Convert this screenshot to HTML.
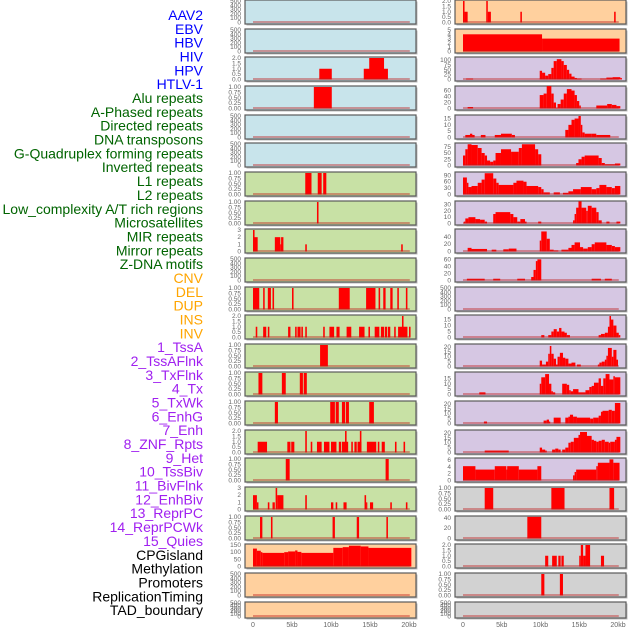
<!DOCTYPE html>
<html><head><meta charset="utf-8"><style>
html,body{margin:0;padding:0;background:#fff;}
svg{display:block;font-family:"Liberation Sans",sans-serif;}
</style></head><body>
<svg id="chart" width="630" height="630" viewBox="0 0 630 630"></svg>
<script>
const trackLabels=["AAV2","EBV","HBV","HIV","HPV","HTLV-1","Alu repeats","A-Phased repeats","Directed repeats","DNA transposons","G-Quadruplex forming repeats","Inverted repeats","L1 repeats","L2 repeats","Low_complexity A/T rich regions","Microsatellites","MIR repeats","Mirror repeats","Z-DNA motifs","CNV","DEL","DUP","INS","INV","1_TssA","2_TssAFlnk","3_TxFlnk","4_Tx","5_TxWk","6_EnhG","7_Enh","8_ZNF_Rpts","9_Het","10_TssBiv","11_BivFlnk","12_EnhBiv","13_ReprPC","14_ReprPCWk","15_Quies","CPGisland","Methylation","Promoters","ReplicationTiming","TAD_boundary"];
const labelGroups=["v","v","v","v","v","v","r","r","r","r","r","r","r","r","r","r","r","r","r","c","c","c","c","c","h","h","h","h","h","h","h","h","h","h","h","h","h","h","h","k","k","k","k","k"];
const xTickKb=[0,5,10,15,20];
const xTickLabels=["0","5kb","10kb","15kb","20kb"];
// panel axis domains (ymax) and tick labels
const leftYMax=[500,500,2,1,500,500,1,1,3,500,1,2,1,1,1,2,1,3,1,150,500,500];
const rightYMax=[2,5,111,72,17,86,101,34,59,61,500,18,22,20,22,22,6.3,1,41.7,2,1,500];
const leftTicks=["E","E","2","1","E","E","1","1","3","E","1","2","1","1","1","2","1","3","1","150","E","E"];
const rightTicks=["2","5","100","60","15","75","90","30","40","60","E","15","20","15","20","20","6","1","40","2","1","E"];
const leftBg=["b","b","b","b","b","b","g","g","g","g","g","g","g","g","g","g","g","g","g","o","o","o"];
const rightBg=["o","o","p","p","p","p","p","p","p","p","p","p","p","p","p","p","p","y","y","y","y","y"];
// series: [startKb,endKb,value]
const L=[];const R=[];
L[2]=[[8.5,10.1,1],[14.2,17.3,1],[14.9,16.8,2]];
L[3]=[[7.8,10.1,1]];
L[6]=[[6.7,7.5,1],[8.3,8.8,1],[9.0,9.4,1]];
L[7]=[[8.2,8.4,1]];
L[8]=[[0,0.6,2],[0,0.2,3],[2.8,3.5,2],[3.5,3.6,1],[3.6,3.9,2],[6.7,6.9,1],[19.0,19.2,1]];
L[10]=[[0,0.8,1],[1.3,1.5,1],[1.9,2.3,1],[2.5,2.7,1],[5.0,5.2,1],[11.0,12.4,1],[14.5,15.7,1],[16.1,16.3,1],[16.7,17.0,1],[17.6,17.9,1],[18.5,18.7,1],[19.6,19.8,1]];
L[11]=[[0.35,0.55,1],[1.3,1.7,1],[1.9,2.1,1],[4.5,4.8,1],[5.4,5.6,1],[5.7,6.1,1],[6.2,6.4,1],[6.7,6.9,1],[9.0,9.2,1],[9.8,10.4,1],[10.7,11.1,1],[12.0,12.6,1],[13.6,14.3,1],[14.8,15.0,1],[15.6,16.2,1],[16.4,16.8,1],[16.9,17.2,1],[17.3,17.6,1],[18.1,18.3,1],[18.6,19.8,1],[19.1,19.3,2],[20.0,20.2,1]];
L[12]=[[8.6,9.6,1]];
L[13]=[[0.7,1.2,1],[3.7,4.2,1],[6.0,6.4,1],[6.5,6.9,1]];
L[14]=[[2.8,3.2,1],[9.9,10.5,1],[10.6,11.0,1],[11.4,11.8,1],[11.9,12.3,1],[14.9,15.5,1]];
L[15]=[[0.6,1.8,1],[4.4,4.8,1],[4.9,5.3,1],[6.7,6.9,2],[7.4,7.6,1],[8.2,8.8,1],[9.1,9.8,1],[10.0,10.7,1],[11.0,11.3,1],[11.4,12.2,1],[11.8,12.0,2],[12.6,12.8,1],[13.0,13.3,1],[13.4,13.9,1],[13.7,13.9,2],[14.6,15.8,1],[16.0,16.2,1],[16.5,16.9,1],[18.2,18.4,1],[19.3,19.5,1]];
L[16]=[[4.2,4.7,1],[17.0,17.4,1]];
L[17]=[[0,0.5,2],[0.5,0.7,1],[1.9,2.1,1],[2.5,2.8,1],[2.9,3.1,3],[3.1,3.9,2],[6.7,6.9,2],[10.0,10.3,1],[10.6,10.8,1],[11.6,12.0,1],[14.3,14.5,2],[14.5,14.6,1],[15.0,15.4,1],[17.6,17.8,1],[19.6,19.8,1]];
L[18]=[[0.9,1.2,1],[2.3,2.5,1],[10.2,10.5,1],[13.3,13.6,1],[17.1,17.3,1]];
L[19]=[[0,0.5,125],[0.5,1.0,110],[1.0,1.2,100],[1.2,4.0,95],[4.0,4.5,100],[4.5,5.4,105],[5.4,5.7,112],[5.7,6.2,102],[6.2,10.3,95],[10.3,11.5,130],[11.5,12.3,135],[12.3,13.8,145],[13.8,14.8,140],[14.8,20.3,130]];
R[0]=[[0,0.2,2],[0.2,0.6,1],[3.0,3.2,2],[3.2,3.6,1],[7.4,7.6,1],[19.5,19.7,1]];
R[1]=[[0,10.2,4],[10.2,20.2,3]];
R[2]=[[0.4,1.3,5],[9.9,10.2,45],[10.2,10.6,35],[10.6,11.0,20],[11.0,11.4,28],[11.4,11.7,60],[11.7,12.1,95],[12.1,12.7,105],[12.7,13.0,95],[13.0,13.4,75],[13.4,13.7,50],[13.7,14.0,30],[14.0,14.4,15],[14.4,14.7,8],[14.7,15.3,5],[17.7,18.5,5],[18.5,19.3,10],[19.3,20.3,12],[20.3,20.5,8]];
R[3]=[[0.6,1.3,5],[9.9,10.4,45],[10.4,10.8,50],[10.8,11.4,75],[11.4,11.7,50],[11.7,12.0,20],[12.0,12.2,2],[12.2,12.6,15],[12.6,13.0,30],[13.0,13.4,50],[13.4,14.0,65],[14.0,14.4,60],[14.4,14.7,45],[14.7,15.0,25],[15.0,15.2,10],[17.2,18.6,10],[18.6,19.2,15],[19.2,19.8,12],[19.8,20.3,8]];
R[4]=[[0.3,1.5,2],[0.9,1.2,3],[2.3,2.9,2],[4.1,4.9,2],[4.9,6.3,3],[6.3,6.7,2],[13.2,13.6,6],[13.6,14.0,10],[14.0,14.4,14],[14.4,14.9,15],[14.9,15.2,17],[15.2,15.4,10],[15.4,15.7,4],[15.7,16.6,3],[16.6,17.2,3],[17.2,19.0,2]];
R[5]=[[0,0.3,40],[0.3,0.6,65],[0.6,1.1,85],[1.1,1.9,82],[1.9,2.4,70],[2.4,2.8,50],[2.8,3.1,40],[3.1,3.5,20],[3.5,3.9,15],[3.9,4.2,20],[4.2,4.9,50],[4.9,6.2,65],[6.2,7.2,55],[7.2,7.6,70],[7.6,9.3,85],[9.3,9.7,65],[9.7,10.1,45],[14.6,14.9,10],[14.9,15.3,25],[15.3,15.7,35],[15.7,17.5,40],[17.5,17.9,30],[17.9,18.3,10],[18.3,19.6,5],[19.6,20.3,8]];
R[6]=[[0,0.5,80],[0.5,0.7,55],[0.7,1.1,35],[1.1,1.9,40],[1.9,2.4,55],[2.4,2.8,70],[2.8,3.9,100],[3.9,4.3,75],[4.3,4.6,55],[4.6,6.5,45],[6.5,6.9,55],[6.9,7.8,65],[7.8,8.2,60],[8.2,9.7,40],[9.7,10.1,35],[10.1,10.4,25],[10.4,11.2,10],[11.7,12.5,10],[12.9,13.6,8],[13.6,14.2,15],[14.2,15.2,25],[15.2,16.6,35],[16.6,17.2,25],[17.2,17.6,30],[17.6,18.5,45],[18.5,19.2,35],[19.2,19.6,30],[19.6,20.3,40]];
R[7]=[[0.1,0.3,3],[0.3,0.7,8],[0.7,1.6,10],[1.6,2.2,7],[2.2,2.8,6],[2.8,3.1,3],[3.9,4.2,15],[4.2,6.1,18],[6.1,6.5,15],[6.5,7.0,10],[7.0,7.4,3],[7.4,8.0,7],[8.0,8.2,3],[9.7,10.1,3],[14.2,14.4,5],[14.4,14.6,15],[14.6,14.9,25],[14.9,15.3,35],[15.3,15.9,25],[15.9,16.1,20],[16.1,16.6,28],[16.6,17.2,25],[17.2,17.5,18],[17.5,17.9,5],[18.5,18.9,3],[19.8,20.3,3]];
R[8]=[[0.6,1.1,10],[1.1,3.1,7],[3.7,4.3,5],[5.2,5.9,6],[5.9,6.9,8],[9.9,10.1,30],[10.1,10.8,55],[10.8,11.2,35],[11.2,11.7,5],[11.7,12.3,3],[12.7,13.6,5],[13.6,14.0,10],[14.0,14.4,18],[14.4,15.1,25],[15.1,15.5,12],[15.5,16.1,8],[16.1,16.6,12],[16.6,17.0,20],[17.0,18.5,25],[18.5,19.2,18],[19.2,19.6,15],[19.6,20.3,12]];
R[9]=[[0.5,2.8,5],[3.9,4.8,5],[7.0,8.0,5],[8.8,9.1,10],[9.1,9.4,30],[9.4,9.6,55],[9.6,10.1,60],[16.6,17.8,5],[18.3,19.2,5]];
R[11]=[[10.1,10.5,2],[11.0,11.4,2],[11.4,11.7,5],[11.7,12.1,7],[12.1,12.4,5],[12.4,12.7,8],[12.7,13.1,5],[13.1,13.4,4],[13.4,13.8,2],[17.5,17.8,2],[17.8,18.3,3],[18.3,18.7,4],[18.7,18.9,9],[18.9,19.1,18],[19.1,19.4,15],[19.4,19.8,10],[19.8,20.1,4],[20.1,20.3,2]];
R[12]=[[9.9,10.2,6],[10.2,10.7,2],[10.7,11.0,5],[11.0,11.2,13],[11.2,11.4,21],[11.4,11.7,13],[11.7,12.0,8],[12.0,12.2,2],[12.2,12.5,10],[12.5,12.9,14],[12.9,13.2,9],[13.2,13.6,8],[13.6,14.0,3],[14.0,14.5,4],[14.7,15.2,2],[17.4,17.6,2],[17.6,17.9,4],[17.9,18.3,5],[18.3,18.5,7],[18.5,18.7,11],[18.7,19.2,19],[19.2,19.4,10],[19.4,19.8,17],[19.8,20.0,7]];
R[13]=[[2.1,2.9,2],[9.9,10.1,10],[10.1,10.6,16],[10.6,11.1,19],[11.1,11.4,10],[11.4,11.6,3],[11.6,11.9,2],[12.8,13.4,10],[13.4,13.7,9],[13.7,13.9,4],[13.9,14.2,3],[14.2,14.9,5],[14.9,15.8,2],[15.8,16.3,4],[16.3,16.6,7],[16.6,16.9,8],[16.9,17.5,11],[17.5,17.8,15],[17.8,18.1,8],[18.1,18.4,15],[18.4,18.9,19],[18.9,19.4,14],[19.4,19.6,17],[19.6,20.3,16]];
R[14]=[[2.7,3.1,2],[10.4,10.8,3],[10.8,11.1,4],[11.1,11.2,2],[11.7,12.6,6],[13.2,13.6,6],[13.6,13.8,7],[13.8,14.2,9],[14.2,14.7,7],[14.7,16.4,6],[16.4,16.8,5],[16.8,17.5,6],[17.5,17.8,8],[17.8,18.0,12],[18.0,18.8,13],[18.8,19.2,14],[19.2,19.6,13],[19.6,20.3,21]];
R[15]=[[2.8,5.9,2],[9.9,10.2,5],[10.2,10.6,3],[10.6,10.8,2],[11.5,11.9,3],[11.9,12.3,4],[12.3,12.6,3],[12.8,13.2,3],[13.2,13.6,5],[13.6,13.9,10],[13.9,14.3,11],[14.3,14.9,15],[14.9,15.1,18],[15.1,16.0,21],[16.0,16.6,17],[16.6,16.9,13],[16.9,17.2,12],[17.2,17.5,11],[17.5,17.9,12],[17.9,18.3,13],[18.3,18.8,11],[18.8,19.0,10],[19.0,19.6,11],[19.6,19.8,13],[19.8,20.3,16]];
R[16]=[[0,1.6,4.2],[1.6,4.1,3.2],[4.1,5.6,4.2],[5.6,5.7,3.2],[5.7,7.2,4.2],[7.2,9.6,3.2],[9.6,10.1,4.2],[14.2,14.4,1.5],[14.4,14.6,2.5],[14.6,17.2,3.2],[17.2,17.4,4.2],[17.4,18.9,5.2],[18.9,19.4,6.2],[19.4,20.2,5.2]];
R[17]=[[2.8,3.9,1],[11.4,13.1,1],[18.9,19.5,1]];
R[18]=[[8.3,10.1,42]];
R[19]=[[10.6,11.0,1],[11.5,12.1,1],[12.3,12.6,1],[12.7,13.0,1],[15.0,15.2,1],[15.2,15.5,2],[15.5,15.8,1],[15.8,16.4,2],[17.8,18.2,1]];
R[20]=[[10.1,10.5,1],[12.5,12.9,1]];

const NS="http://www.w3.org/2000/svg";
const svg=document.getElementById('chart');
const bgColors={b:"#c8e4eb",g:"#c8e1a5",o:"#ffd09e",p:"#d6c7e3",y:"#d2d2d2"};
const grpColors={v:"#0000ff",r:"#006400",c:"#ffa500",h:"#a020f0",k:"#000000"};
const tickSets={"E":[[0,"0"],[100,"100"],[200,"200"],[300,"300"],[400,"400"],[500,"500"]],
"1":[[0,"0.00"],[0.25,"0.25"],[0.5,"0.50"],[0.75,"0.75"],[1,"1.00"]],
"2":[[0,"0.0"],[0.5,"0.5"],[1,"1.0"],[1.5,"1.5"],[2,"2.0"]],
"3":[[0,"0"],[1,"1"],[2,"2"],[3,"3"]],
"5":[[0,"0"],[1,"1"],[2,"2"],[3,"3"],[4,"4"],[5,"5"]],
"6":[[0,"0"],[2,"2"],[4,"4"],[6,"6"]],
"15":[[0,"0"],[5,"5"],[10,"10"],[15,"15"]],
"20":[[0,"0"],[5,"5"],[10,"10"],[15,"15"],[20,"20"]],
"30":[[0,"0"],[10,"10"],[20,"20"],[30,"30"]],
"40":[[0,"0"],[20,"20"],[40,"40"]],
"60":[[0,"0"],[20,"20"],[40,"40"],[60,"60"]],
"75":[[0,"0"],[25,"25"],[50,"50"],[75,"75"]],
"90":[[0,"0"],[30,"30"],[60,"60"],[90,"90"]],
"100":[[0,"0"],[25,"25"],[50,"50"],[75,"75"],[100,"100"]],
"150":[[0,"0"],[50,"50"],[100,"100"],[150,"150"]]};
function mk(tag,attrs){const e=document.createElementNS(NS,tag);for(const k in attrs)e.setAttribute(k,attrs[k]);svg.appendChild(e);return e;}

// labels
for(let i=0;i<trackLabels.length;i++){
  const t=mk('text',{x:203,y:15+i*13.84+5,'text-anchor':'end','font-size':'14',fill:grpColors[labelGroups[i]]});
  
  
  t.textContent=trackLabels[i];
}
function xScaleL(kb){return 253+kb*7.8;}
function xScaleR(kb){return 463+kb*7.75;}

function drawPanel(row,side){
  const px=side===0?245:455, pw=171;
  const top=Math.round(row*28.65), h=row===21?16:24;
  const ymax=side===0?leftYMax[row]:rightYMax[row];
  const tk=side===0?leftTicks[row]:rightTicks[row];
  const bg=side===0?leftBg[row]:rightBg[row];
  const data=side===0?L[row]:R[row];
  const xs=side===0?xScaleL:xScaleR;
  const y0=top+h-1.5, span=h-2.5;
  const ys=v=>y0-v/ymax*span;
  mk('rect',{x:px+1.5,y:top+1.5,width:pw,height:h,fill:"#bbbbbb"});
  const r=mk('rect',{x:px,y:top,width:pw,height:h,fill:bgColors[bg],stroke:"#5a5a5a",'stroke-width':1.2});
  
  
  for(const [v,lab] of tickSets[tk]){
    const t=mk('text',{x:px-4,y:ys(v)+2,'text-anchor':'end','font-size':'6.5',fill:"#666"});
    
    
    t.textContent=lab;
  }
  if(data){
    for(const [a,b,v] of data){
      const rr=mk('rect',{x:xs(a),y:ys(v),width:Math.max(xs(b)-xs(a),1.2),height:y0-ys(v),fill:"#ff0000"});
      
      
    }
  }
  const bl=mk('line',{x1:xs(0),x2:xs(20.1),y1:y0-0.5,y2:y0-0.5,stroke:"rgba(190,30,30,0.55)",'stroke-width':1.5});
  
  
}
for(let r=0;r<22;r++){drawPanel(r,0);drawPanel(r,1);}
for(let s=0;s<2;s++){
  const xs=s===0?xScaleL:xScaleR;
  for(let i=0;i<xTickKb.length;i++){
    const t=mk('text',{x:xs(xTickKb[i]),y:627,'text-anchor':'middle','font-size':'7',fill:"#666"});
    
    
    t.textContent=xTickLabels[i];
  }
}
</script>
</body></html>
